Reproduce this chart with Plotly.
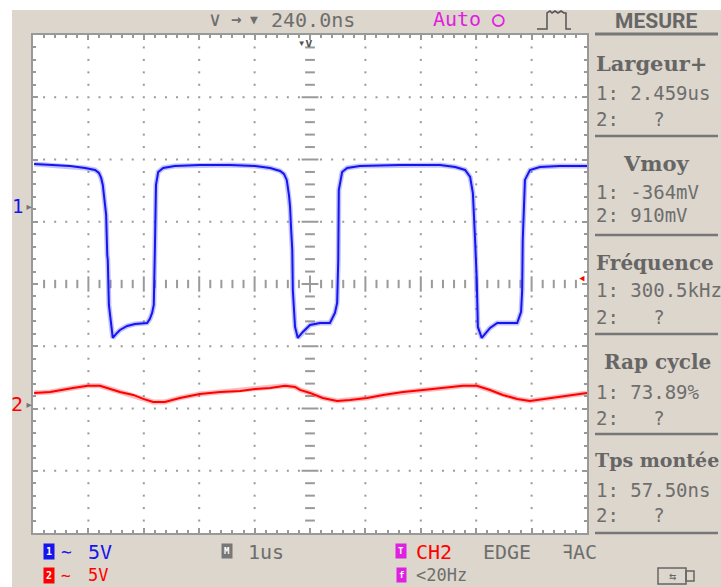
import numpy as np
import plotly.graph_objects as go

# ---------------- data ----------------
VOLTS_PER_DIV = 5          # both channels 5 V/div
US_PER_DIV = 1             # timebase 1 us/div
CH1_OFFSET_DIV = 1.27      # CH1 ground marker position (divisions above centre)
CH2_OFFSET_DIV = -1.91     # CH2 ground marker position

time_us_ch1 = [-4.98, -4.69, -4.33, -4.06, -3.88, -3.81, -3.77, -3.74, -3.70, -3.68,
               -3.66, -3.65, -3.63, -3.61, -3.57, -3.56, -3.50, -3.43, -3.30, -3.16,
               -2.94, -2.89, -2.85, -2.82, -2.80, -2.78, -2.74, -2.65, -2.44, -1.99,
               -1.44, -0.99, -0.72, -0.54, -0.47, -0.42, -0.38, -0.36, -0.34, -0.32,
               -0.31, -0.29, -0.27, -0.22, -0.13, 0.00, 0.18, 0.36, 0.45, 0.49,
               0.51, 0.52, 0.58, 0.67, 0.90, 1.62, 2.35, 2.62, 2.80, 2.89,
               2.94, 2.98, 3.01, 3.03, 3.10, 3.25, 3.38, 3.74, 3.81, 3.83,
               3.84, 3.88, 3.97, 4.15, 4.51, 5.00]
ch1_volts = [3.29, 3.21, 3.13, 2.97, 2.81, 2.57, 2.17, 1.61, 0.00, -0.80,
             -4.02, -4.42, -8.03, -8.83, -10.44, -10.68, -10.36, -10.04, -9.72, -9.56,
             -9.48, -9.15, -8.67, -8.03, -3.61, 1.61, 2.65, 2.97, 3.13, 3.21,
             3.21, 3.13, 2.97, 2.73, 2.49, 2.01, 0.80, -0.16, -2.01, -3.61,
             -6.83, -8.59, -9.80, -10.68, -10.20, -9.64, -9.48, -9.48, -8.67, -7.87,
             -4.42, 1.20, 2.65, 2.97, 3.13, 3.21, 3.21, 3.05, 2.81, 2.25,
             0.96, -2.81, -6.02, -9.80, -10.68, -9.88, -9.48, -9.48, -8.59, -6.83,
             -2.81, 2.01, 2.81, 3.05, 3.13, 3.13]

time_us_ch2 = [-4.98, -4.69, -4.28, -4.01, -3.79, -3.66, -3.43, -3.19, -3.01, -2.83,
               -2.62, -2.35, -1.99, -1.62, -1.26, -0.99, -0.72, -0.45, -0.27, -0.18,
               0.00, 0.23, 0.49, 0.72, 1.03, 1.32, 1.68, 2.04, 2.40, 2.76,
               3.01, 3.25, 3.48, 3.74, 3.97, 4.21, 4.46, 4.75, 5.00]
ch2_volts = [0.80, 0.88, 1.20, 1.37, 1.37, 1.20, 0.88, 0.64, 0.32, 0.08,
             0.08, 0.40, 0.72, 0.88, 0.96, 1.12, 1.20, 1.37, 1.28, 1.04,
             0.80, 0.40, 0.16, 0.24, 0.40, 0.64, 0.88, 1.04, 1.20, 1.37,
             1.37, 1.04, 0.64, 0.32, 0.16, 0.32, 0.48, 0.64, 0.80]

measure_titles = ["Largeur+", "Vmoy", "Fréquence", "Rap cycle", "Tps montée"]
measure_ch1 = ["1: 2.459us", "1: -364mV", "1: 300.5kHz", "1: 73.89%", "1: 57.50ns"]
measure_ch2 = ["2:\u00a0\u00a0\u00a0?", "2: 910mV", "2:\u00a0\u00a0\u00a0?", "2:\u00a0\u00a0\u00a0?", "2:\u00a0\u00a0\u00a0?"]

# ---------------- layout geometry ----------------
W, H = 721, 587
L, R, T, B = 33, 587, 35, 533           # screen area in pixels
BEIGE = "#ddd6cc"
GREY = "#6e6e6e"
GRID = "#9a9a9a"
MONO = "DejaVu Sans Mono"
SERIF = "DejaVu Serif"


def px(x):
    return (x - L) / (R - L)


def py(y):
    return (B - y) / (B - T)


fig = go.Figure()

# ---------------- graticule ----------------
dx, dy = [], []
for gy in [-3, -2, -1, 1, 2, 3]:
    for gx in np.arange(-4.8, 4.81, 0.2):
        if abs(gx) > 1e-6:
            dx.append(gx); dy.append(gy)
for gx in [-4, -3, -2, -1, 1, 2, 3, 4]:
    for gy in np.arange(-3.8, 3.81, 0.2):
        if abs(gy - round(gy)) > 1e-6:
            dx.append(gx); dy.append(gy)
fig.add_trace(go.Scatter(x=dx, y=dy, mode="markers", hoverinfo="skip",
                         marker=dict(symbol="square", size=2, color=GRID, line_width=0)))

minor = [v for v in np.arange(-4.8, 4.81, 0.2) if abs(v - round(v)) > 1e-6]
major_x = [v for v in range(-4, 5) if v != 0]
major_y = [v for v in range(-3, 4) if v != 0]
minor_y = [v for v in np.arange(-3.8, 3.81, 0.2) if abs(v - round(v)) > 1e-6]
# centre horizontal line: vertical dashes
fig.add_trace(go.Scatter(x=minor, y=[0] * len(minor), mode="markers", hoverinfo="skip",
                         marker=dict(symbol="line-ns", size=6, line=dict(color=GRID, width=2))))
fig.add_trace(go.Scatter(x=major_x, y=[0] * len(major_x), mode="markers", hoverinfo="skip",
                         marker=dict(symbol="line-ns", size=11, line=dict(color=GRID, width=2))))
# centre vertical line: horizontal dashes
fig.add_trace(go.Scatter(x=[0] * len(minor_y), y=minor_y, mode="markers", hoverinfo="skip",
                         marker=dict(symbol="line-ew", size=7, line=dict(color=GRID, width=2))))
fig.add_trace(go.Scatter(x=[0] * len(major_y), y=major_y, mode="markers", hoverinfo="skip",
                         marker=dict(symbol="line-ew", size=12, line=dict(color=GRID, width=2))))
fig.add_trace(go.Scatter(x=[0, 0], y=[0, 0], mode="markers", hoverinfo="skip",
                         marker=dict(symbol=["line-ew", "line-ns"], size=12,
                                     line=dict(color=GRID, width=2))))

# ---------------- waveforms ----------------
y1 = [v / VOLTS_PER_DIV + CH1_OFFSET_DIV for v in ch1_volts]
y2 = [v / VOLTS_PER_DIV + CH2_OFFSET_DIV for v in ch2_volts]
t1 = [t / US_PER_DIV for t in time_us_ch1]
t2 = [t / US_PER_DIV for t in time_us_ch2]
fig.add_trace(go.Scatter(x=t1, y=y1, mode="lines", hoverinfo="skip",
                         line=dict(color="rgba(80,80,255,0.35)", width=5)))
fig.add_trace(go.Scatter(x=t1, y=y1, mode="lines", hoverinfo="skip",
                         line=dict(color="#1515f0", width=2)))
fig.add_trace(go.Scatter(x=t2, y=y2, mode="lines", hoverinfo="skip",
                         line=dict(color="rgba(255,60,60,0.35)", width=5)))
fig.add_trace(go.Scatter(x=t2, y=y2, mode="lines", hoverinfo="skip",
                         line=dict(color="#ff0000", width=2)))

# ---------------- shapes ----------------
shapes = [
    dict(type="rect", xref="paper", yref="paper", x0=px(0), x1=px(12), y0=py(H), y1=py(0),
         fillcolor="white", line_width=0, layer="below"),
    dict(type="rect", xref="paper", yref="paper", x0=px(0), x1=px(W), y0=py(10), y1=py(0),
         fillcolor="white", line_width=0, layer="below"),
    # MESURE underline
    dict(type="line", xref="paper", yref="paper", x0=px(595), x1=px(718), y0=py(34), y1=py(34),
         line=dict(color="#777777", width=3)),
]
for ysep in [136, 235, 334, 434, 533]:
    shapes.append(dict(type="line", xref="paper", yref="paper", x0=px(595), x1=px(718),
                       y0=py(ysep), y1=py(ysep), line=dict(color="#777777", width=2.5)))
# pulse icon
pts = [(537, 29), (547, 29), (547, 13), (550, 11), (552, 13), (555, 11), (558, 13), (561, 11),
       (564, 13), (566, 13), (566, 29), (571, 29)]
path = "M " + " L ".join(f"{px(a):.5f},{py(b):.5f}" for a, b in pts)
shapes.append(dict(type="path", xref="paper", yref="paper", path=path,
                   line=dict(color="#555555", width=1.5)))
# USB icon
shapes.append(dict(type="rect", xref="paper", yref="paper", x0=px(658), x1=px(686),
                   y0=py(584), y1=py(568), line=dict(color="#666666", width=1.5)))
shapes.append(dict(type="rect", xref="paper", yref="paper", x0=px(686), x1=px(694),
                   y0=py(581), y1=py(571), line=dict(color="#666666", width=1.5)))


# ---------------- text ----------------
def txt(s, x, y, size, color=GREY, family=MONO, xanchor="left", bold=False, bg=None, pad=0):
    fig.add_annotation(text=f"<b>{s}</b>" if bold else s, x=px(x), y=py(y),
                       xref="paper", yref="paper", xanchor=xanchor, yanchor="middle",
                       showarrow=False, font=dict(family=family, size=size, color=color),
                       bgcolor=bg, borderpad=pad)


# top bar
txt("∨", 215, 19, 20, xanchor="center")
txt("→", 236, 19, 17, xanchor="center", bold=True)
txt("▼", 254, 19, 13, xanchor="center")
txt("240.0ns", 270, 20, 20)
txt("Auto", 432, 19, 20, color="#e020e0")
txt("○", 498, 19, 21, color="#e020e0", xanchor="center", bold=True)
txt("MESURE", 656, 21, 21, color="#666666", family="Roboto", xanchor="center", bold=True)
# trigger position marker
txt("▾v", 305, 43, 12, color="#555555", xanchor="center", bold=True)

# channel markers
txt("1", 17, 206, 19, color="#1515f0", xanchor="center")
txt("▸", 29, 206, 14, color="#777777", xanchor="center")
txt("2", 17, 404, 20, color="#ff0000", xanchor="center")
txt("▸", 29, 404, 14, color="#777777", xanchor="center")
txt("◂", 587, 277, 13, color="#ff0000", xanchor="right")

# measurement panel
title_pos = [(595, 63, "left", 21), (656, 163, "center", 21), (595, 263, "left", 20),
             (657, 362, "center", 20), (594, 460, "left", 19)]
v1_y = [93, 192, 290, 392, 490]
v2_y = [119, 215, 317, 418, 515]
for i, title in enumerate(measure_titles):
    x, y, anc, sz = title_pos[i]
    txt(title, x, y, sz, color="#666666", family=SERIF, xanchor=anc, bold=True)
    txt(measure_ch1[i], 595, v1_y[i], 19)
    txt(measure_ch2[i], 595, v2_y[i], 19)

# bottom status rows
txt("1", 49, 551, 10, color="white", xanchor="center", bold=True, bg="#1515f0", pad=2)
txt("∼", 66, 551, 18, color="#1515f0", xanchor="center")
txt("5V", 87, 552, 20, color="#1515f0")
txt("2", 49, 575, 10, color="white", xanchor="center", bold=True, bg="#ff0000", pad=2)
txt("∼", 66, 575, 16, color="#ff0000", xanchor="center")
txt("5V", 87, 575, 17, color="#ff0000")
txt("M", 227, 551, 9, color="white", xanchor="center", bold=True, bg="#777777", pad=2)
txt("1us", 247, 552, 20)
txt("T", 401, 551, 9, color="white", xanchor="center", bold=True, bg="#e020e0", pad=2)
txt("CH2", 415, 552, 20, color="#ff0000")
txt("EDGE", 482, 552, 20)
txt("ꟻAC", 562, 552, 20)
txt("f", 401, 575, 9, color="white", xanchor="center", bold=True, bg="#e020e0", pad=2)
txt("<20Hz", 415, 575, 17)
txt("⇆", 672, 576, 12, color="#666666", xanchor="center")

fig.update_layout(
    width=W, height=H, autosize=False,
    margin=dict(l=L, r=W - R, t=T, b=H - B, pad=0),
    paper_bgcolor=BEIGE, plot_bgcolor="white",
    showlegend=False, shapes=shapes,
    xaxis=dict(range=[-5, 5], showgrid=False, zeroline=False, showticklabels=False,
               showline=True, linecolor="#999999", linewidth=2, mirror="allticks",
               ticks="inside", dtick=1, tick0=0, ticklen=5, tickcolor="#999999", tickwidth=1.5,
               minor=dict(ticks="inside", dtick=0.2, ticklen=3, tickcolor="#999999", tickwidth=1.5),
               fixedrange=True),
    yaxis=dict(range=[-4, 4], showgrid=False, zeroline=False, showticklabels=False,
               showline=True, linecolor="#999999", linewidth=2, mirror="allticks",
               ticks="inside", dtick=1, tick0=0, ticklen=5, tickcolor="#999999", tickwidth=1.5,
               minor=dict(ticks="inside", dtick=0.2, ticklen=3, tickcolor="#999999", tickwidth=1.5),
               fixedrange=True),
)

fig.write_html("out.html", config={"displayModeBar": False},
               post_script="document.body.style.margin='0';document.body.style.overflow='hidden';")
